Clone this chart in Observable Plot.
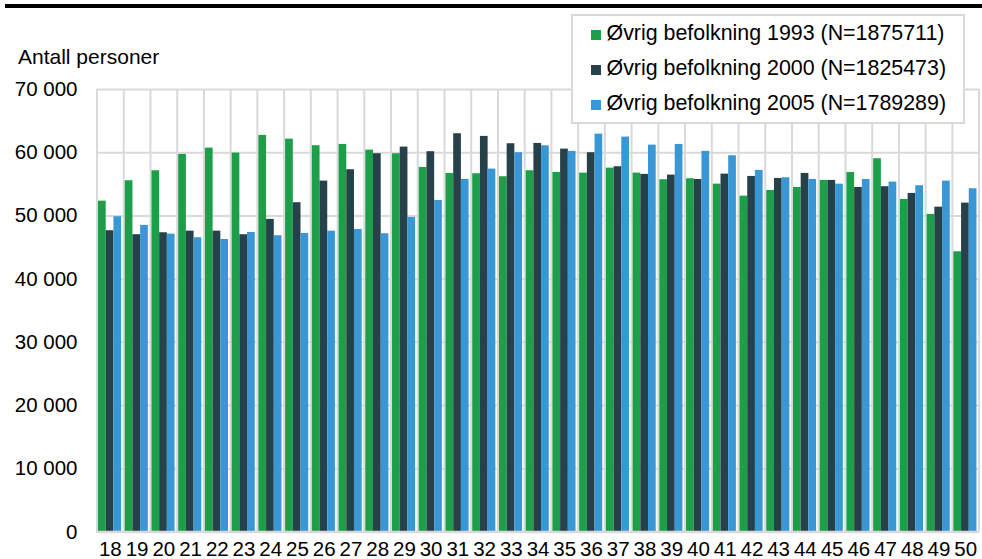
<!DOCTYPE html>
<html>
<head>
<meta charset="utf-8">
<script src="https://cdn.jsdelivr.net/npm/d3@7"></script>
<script src="https://cdn.jsdelivr.net/npm/@observablehq/plot@0.6"></script>
<style>
  html, body { margin: 0; padding: 0; background: #fff; }
  body { font-family: "Liberation Sans", Arial, sans-serif; color: #000; }
  #wrap { position: relative; width: 982px; height: 559px; overflow: hidden; }
  #topline { position: absolute; left: 5px; top: 4px; width: 977px; height: 4px; background: #000; }
  #ylabel { position: absolute; left: 18px; top: 46.4px; font-size: 21px; line-height: 21px; white-space: nowrap; }
  #legend { position: absolute; left: 571px; top: 14px; width: 390px; height: 106px;
            border: 2px solid #d9d9d9; background: #fff; }
  .row { display: flex; align-items: center; height: 35px; font-size: 21.4px; line-height: 35px; white-space: nowrap; }
  .sw { width: 10px; height: 10px; margin-left: 18px; margin-right: 5.5px; margin-top: 2px; flex: none; }
  #chart { position: absolute; left: 0; top: 0; }
</style>
</head>
<body>
<div id="wrap">
  <div id="chart"></div>
  <div id="topline"></div>
  <div id="ylabel"></div>
  <div id="legend"></div>
</div>
<script>
const ages = [18, 19, 20, 21, 22, 23, 24, 25, 26, 27, 28, 29, 30, 31, 32, 33, 34, 35, 36, 37, 38, 39, 40, 41, 42, 43, 44, 45, 46, 47, 48, 49, 50];

const v1993 = [52340, 55570, 57150, 59730, 60730, 59940, 62740, 62150, 61110, 61310, 60410, 59840, 57670, 56720, 56670, 56200, 57150, 56880, 56770, 57560, 56770, 55730, 55880, 55030, 53130, 54030, 54510, 55620, 56880, 59050, 52610, 50240, 44330];
const v2000 = [47660, 47030, 47340, 47590, 47590, 47030, 49450, 52090, 55510, 57310, 59840, 60890, 60160, 63000, 62580, 61420, 61470, 60570, 60000, 57780, 56570, 56460, 55770, 56610, 56250, 55930, 56720, 55620, 54510, 54620, 53560, 51390, 52030];
const v2005 = [49870, 48500, 47120, 46550, 46280, 47390, 46870, 47230, 47590, 47860, 47180, 49760, 52450, 55770, 57410, 60000, 61100, 60210, 62940, 62470, 61200, 61310, 60210, 59520, 57200, 56040, 55770, 55030, 55770, 55350, 54780, 55510, 54300];

const seriesNames = ["Øvrig befolkning 1993 (N=1875711)", "Øvrig befolkning 2000 (N=1825473)", "Øvrig befolkning 2005 (N=1789289)"];
const seriesColors = ["#1d9e49", "#26414a", "#3897d4"];
const yTicks = [0, 10000, 20000, 30000, 40000, 50000, 60000, 70000];
const yTitle = "Antall personer";

const seriesValues = [v1993, v2000, v2005];
const table = ages.map((a, i) => ({age: a, s0: v1993[i], s1: v2000[i], s2: v2005[i]}));

const W = 982, H = 559;
const mL = 96.5, mR = 3.4, mT = 89, mB = 27.5;
const bw = (W - mL - mR) / ages.length;
const barW = 7.7, lead = 1.5;
const grid = "#d9d9d9";
const fmt = d => d3.format(",")(d).replace(/,/g, " ");

const barMarks = seriesValues.map((vals, i) =>
  Plot.barY(table, {
    x: "age",
    y: "s" + i,
    fill: seriesColors[i],
    insetLeft: lead + i * barW,
    insetRight: bw - (lead + (i + 1) * barW)
  })
);

const chart = Plot.plot({
  width: W,
  height: H,
  marginLeft: mL,
  marginRight: mR,
  marginTop: mT,
  marginBottom: mB,
  style: {fontFamily: '"Liberation Sans", Arial, sans-serif', fontSize: "20.5px", color: "#000", background: "transparent", overflow: "visible"},
  x: {type: "band", domain: ages, padding: 0, round: false, tickSize: 0, tickPadding: 9, label: null},
  y: {domain: [0, 70000], ticks: yTicks, tickFormat: fmt, tickSize: 0, tickPadding: 19.5, label: null},
  marks: [
    Plot.ruleY(yTicks, {stroke: grid, strokeWidth: 2}),
    Plot.ruleX(ages, {x: d => d, dx: -bw / 2, stroke: grid, strokeWidth: 2}),
    Plot.ruleX(ages.slice(-1), {x: d => d, dx: bw / 2, stroke: grid, strokeWidth: 2}),
    ...barMarks,
    Plot.ruleY([0], {stroke: grid, strokeWidth: 2.5})
  ]
});
document.getElementById("chart").appendChild(chart);

document.getElementById("ylabel").textContent = yTitle;

const legend = document.getElementById("legend");
seriesNames.forEach((name, i) => {
  const row = document.createElement("div");
  row.className = "row";
  const sw = document.createElement("span");
  sw.className = "sw";
  sw.style.background = seriesColors[i];
  const t = document.createElement("span");
  t.textContent = name;
  row.appendChild(sw);
  row.appendChild(t);
  legend.appendChild(row);
});
</script>
</body>
</html>
